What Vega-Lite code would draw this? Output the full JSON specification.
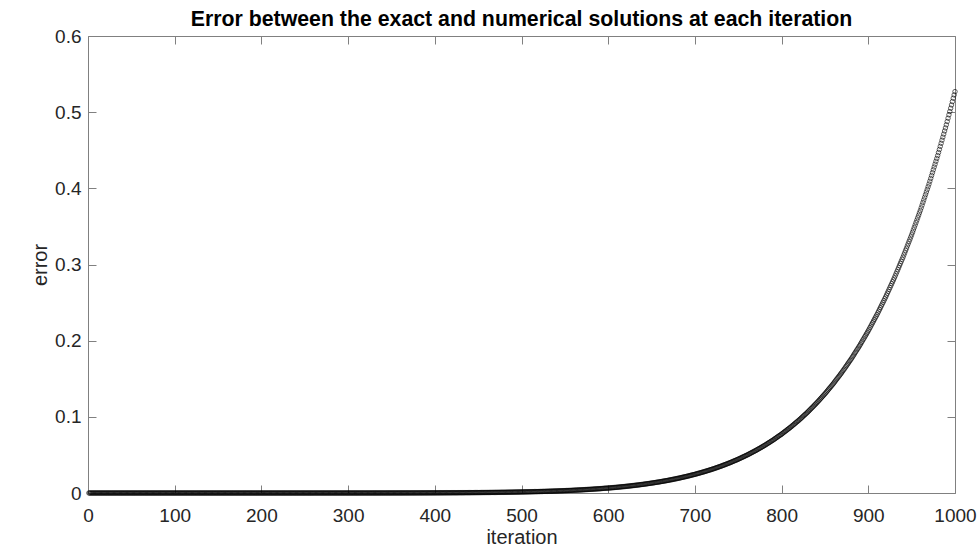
{
"$schema": "https://vega.github.io/schema/vega-lite/v6.json",
"width": 867, "height": 457,
"autosize": {"type": "none"},
"padding": {"left": 88, "top": 36, "right": 25, "bottom": 59},
"background": "white",
"title": {"text": "Error between the exact and numerical solutions at each iteration", "font": "Liberation Sans", "fontSize": 21.3, "fontWeight": "bold", "color": "#000000", "anchor": "middle", "offset": -3},
"config": {
  "view": {"stroke": null},
  "axis": {"grid": false, "labelFlush": false, "labelOverlap": false, "domainColor": "#808080", "tickColor": "#808080", "tickSize": -8, "labelFont": "Liberation Sans", "labelFontSize": 19, "labelColor": "#262626", "titleFont": "Liberation Sans", "titleFontSize": 20, "titleFontWeight": "normal", "titleColor": "#262626"}
},
"resolve": {"axis": {"x": "independent", "y": "independent"}},
"layer": [
{
"data": {"values": [
{"n":1,"e":0},{"n":2,"e":0},{"n":3,"e":0},{"n":4,"e":0},{"n":5,"e":0},{"n":6,"e":0},{"n":7,"e":0},{"n":8,"e":0},{"n":9,"e":0},{"n":10,"e":0},
{"n":11,"e":0},{"n":12,"e":0},{"n":13,"e":0},{"n":14,"e":0},{"n":15,"e":0},{"n":16,"e":0},{"n":17,"e":0},{"n":18,"e":0},{"n":19,"e":0},{"n":20,"e":0},
{"n":21,"e":0},{"n":22,"e":0},{"n":23,"e":0},{"n":24,"e":0},{"n":25,"e":0},{"n":26,"e":0},{"n":27,"e":0},{"n":28,"e":0},{"n":29,"e":0},{"n":30,"e":0},
{"n":31,"e":0},{"n":32,"e":0},{"n":33,"e":0},{"n":34,"e":0},{"n":35,"e":0},{"n":36,"e":0},{"n":37,"e":0},{"n":38,"e":0},{"n":39,"e":0},{"n":40,"e":0},
{"n":41,"e":0},{"n":42,"e":0},{"n":43,"e":0},{"n":44,"e":0},{"n":45,"e":0},{"n":46,"e":0},{"n":47,"e":0},{"n":48,"e":0},{"n":49,"e":0},{"n":50,"e":0},
{"n":51,"e":0},{"n":52,"e":0},{"n":53,"e":0},{"n":54,"e":0},{"n":55,"e":0},{"n":56,"e":0},{"n":57,"e":0},{"n":58,"e":0},{"n":59,"e":0},{"n":60,"e":0},
{"n":61,"e":0},{"n":62,"e":0},{"n":63,"e":0},{"n":64,"e":0},{"n":65,"e":0},{"n":66,"e":0},{"n":67,"e":0},{"n":68,"e":0},{"n":69,"e":0},{"n":70,"e":0},
{"n":71,"e":0},{"n":72,"e":0},{"n":73,"e":0},{"n":74,"e":0},{"n":75,"e":0},{"n":76,"e":0},{"n":77,"e":0},{"n":78,"e":0},{"n":79,"e":0},{"n":80,"e":0},
{"n":81,"e":0},{"n":82,"e":0},{"n":83,"e":0},{"n":84,"e":0},{"n":85,"e":0},{"n":86,"e":0},{"n":87,"e":0},{"n":88,"e":0},{"n":89,"e":0},{"n":90,"e":0},
{"n":91,"e":0},{"n":92,"e":0},{"n":93,"e":0},{"n":94,"e":0},{"n":95,"e":0},{"n":96,"e":0},{"n":97,"e":0},{"n":98,"e":0},{"n":99,"e":0},{"n":100,"e":0},
{"n":101,"e":0},{"n":102,"e":0},{"n":103,"e":0},{"n":104,"e":0},{"n":105,"e":0},{"n":106,"e":0},{"n":107,"e":0},{"n":108,"e":0},{"n":109,"e":0},{"n":110,"e":0},
{"n":111,"e":0},{"n":112,"e":0},{"n":113,"e":0},{"n":114,"e":0},{"n":115,"e":0},{"n":116,"e":0},{"n":117,"e":0},{"n":118,"e":0},{"n":119,"e":0},{"n":120,"e":0},
{"n":121,"e":0},{"n":122,"e":0},{"n":123,"e":0},{"n":124,"e":0},{"n":125,"e":0},{"n":126,"e":0},{"n":127,"e":0},{"n":128,"e":0},{"n":129,"e":0},{"n":130,"e":0},
{"n":131,"e":0},{"n":132,"e":0},{"n":133,"e":0},{"n":134,"e":0},{"n":135,"e":0},{"n":136,"e":0},{"n":137,"e":0},{"n":138,"e":0},{"n":139,"e":0},{"n":140,"e":0},
{"n":141,"e":0},{"n":142,"e":0},{"n":143,"e":0},{"n":144,"e":0},{"n":145,"e":0},{"n":146,"e":0},{"n":147,"e":0},{"n":148,"e":0},{"n":149,"e":0},{"n":150,"e":0},
{"n":151,"e":0},{"n":152,"e":0},{"n":153,"e":0},{"n":154,"e":0},{"n":155,"e":0},{"n":156,"e":0},{"n":157,"e":0},{"n":158,"e":0},{"n":159,"e":0},{"n":160,"e":0},
{"n":161,"e":0},{"n":162,"e":0},{"n":163,"e":0},{"n":164,"e":0},{"n":165,"e":0},{"n":166,"e":0},{"n":167,"e":0},{"n":168,"e":0},{"n":169,"e":0},{"n":170,"e":0},
{"n":171,"e":0},{"n":172,"e":0},{"n":173,"e":0},{"n":174,"e":0},{"n":175,"e":0},{"n":176,"e":0},{"n":177,"e":0},{"n":178,"e":0},{"n":179,"e":0},{"n":180,"e":0},
{"n":181,"e":0},{"n":182,"e":0},{"n":183,"e":0},{"n":184,"e":0},{"n":185,"e":0},{"n":186,"e":0},{"n":187,"e":0},{"n":188,"e":0},{"n":189,"e":0},{"n":190,"e":0},
{"n":191,"e":0},{"n":192,"e":0},{"n":193,"e":0},{"n":194,"e":0},{"n":195,"e":0},{"n":196,"e":0},{"n":197,"e":0},{"n":198,"e":0},{"n":199,"e":0},{"n":200,"e":0},
{"n":201,"e":0},{"n":202,"e":0},{"n":203,"e":0},{"n":204,"e":0},{"n":205,"e":0},{"n":206,"e":0},{"n":207,"e":0},{"n":208,"e":0},{"n":209,"e":0},{"n":210,"e":0},
{"n":211,"e":0},{"n":212,"e":0},{"n":213,"e":0},{"n":214,"e":0},{"n":215,"e":0},{"n":216,"e":0},{"n":217,"e":0},{"n":218,"e":0},{"n":219,"e":0},{"n":220,"e":0},
{"n":221,"e":0},{"n":222,"e":0},{"n":223,"e":0},{"n":224,"e":0},{"n":225,"e":0},{"n":226,"e":0},{"n":227,"e":0},{"n":228,"e":0},{"n":229,"e":0},{"n":230,"e":0},
{"n":231,"e":0},{"n":232,"e":0},{"n":233,"e":0},{"n":234,"e":0},{"n":235,"e":0},{"n":236,"e":0},{"n":237,"e":0},{"n":238,"e":0},{"n":239,"e":0},{"n":240,"e":0},
{"n":241,"e":0},{"n":242,"e":0},{"n":243,"e":0},{"n":244,"e":0},{"n":245,"e":0},{"n":246,"e":0},{"n":247,"e":0},{"n":248,"e":0},{"n":249,"e":0},{"n":250,"e":0},
{"n":251,"e":0},{"n":252,"e":0},{"n":253,"e":0},{"n":254,"e":0},{"n":255,"e":0},{"n":256,"e":0},{"n":257,"e":0},{"n":258,"e":0},{"n":259,"e":0},{"n":260,"e":0},
{"n":261,"e":0.00001},{"n":262,"e":0.00001},{"n":263,"e":0.00001},{"n":264,"e":0.00001},{"n":265,"e":0.00001},{"n":266,"e":0.00001},{"n":267,"e":0.00001},{"n":268,"e":0.00001},{"n":269,"e":0.00001},{"n":270,"e":0.00001},
{"n":271,"e":0.00001},{"n":272,"e":0.00001},{"n":273,"e":0.00001},{"n":274,"e":0.00001},{"n":275,"e":0.00001},{"n":276,"e":0.00001},{"n":277,"e":0.00001},{"n":278,"e":0.00001},{"n":279,"e":0.00001},{"n":280,"e":0.00001},
{"n":281,"e":0.00001},{"n":282,"e":0.00001},{"n":283,"e":0.00001},{"n":284,"e":0.00001},{"n":285,"e":0.00001},{"n":286,"e":0.00001},{"n":287,"e":0.00001},{"n":288,"e":0.00001},{"n":289,"e":0.00001},{"n":290,"e":0.00001},
{"n":291,"e":0.00001},{"n":292,"e":0.00001},{"n":293,"e":0.00001},{"n":294,"e":0.00001},{"n":295,"e":0.00001},{"n":296,"e":0.00002},{"n":297,"e":0.00002},{"n":298,"e":0.00002},{"n":299,"e":0.00002},{"n":300,"e":0.00002},
{"n":301,"e":0.00002},{"n":302,"e":0.00002},{"n":303,"e":0.00002},{"n":304,"e":0.00002},{"n":305,"e":0.00002},{"n":306,"e":0.00002},{"n":307,"e":0.00002},{"n":308,"e":0.00002},{"n":309,"e":0.00002},{"n":310,"e":0.00002},
{"n":311,"e":0.00002},{"n":312,"e":0.00002},{"n":313,"e":0.00002},{"n":314,"e":0.00003},{"n":315,"e":0.00003},{"n":316,"e":0.00003},{"n":317,"e":0.00003},{"n":318,"e":0.00003},{"n":319,"e":0.00003},{"n":320,"e":0.00003},
{"n":321,"e":0.00003},{"n":322,"e":0.00003},{"n":323,"e":0.00003},{"n":324,"e":0.00003},{"n":325,"e":0.00003},{"n":326,"e":0.00003},{"n":327,"e":0.00004},{"n":328,"e":0.00004},{"n":329,"e":0.00004},{"n":330,"e":0.00004},
{"n":331,"e":0.00004},{"n":332,"e":0.00004},{"n":333,"e":0.00004},{"n":334,"e":0.00004},{"n":335,"e":0.00004},{"n":336,"e":0.00004},{"n":337,"e":0.00005},{"n":338,"e":0.00005},{"n":339,"e":0.00005},{"n":340,"e":0.00005},
{"n":341,"e":0.00005},{"n":342,"e":0.00005},{"n":343,"e":0.00005},{"n":344,"e":0.00005},{"n":345,"e":0.00006},{"n":346,"e":0.00006},{"n":347,"e":0.00006},{"n":348,"e":0.00006},{"n":349,"e":0.00006},{"n":350,"e":0.00006},
{"n":351,"e":0.00007},{"n":352,"e":0.00007},{"n":353,"e":0.00007},{"n":354,"e":0.00007},{"n":355,"e":0.00007},{"n":356,"e":0.00007},{"n":357,"e":0.00008},{"n":358,"e":0.00008},{"n":359,"e":0.00008},{"n":360,"e":0.00008},
{"n":361,"e":0.00008},{"n":362,"e":0.00008},{"n":363,"e":0.00009},{"n":364,"e":0.00009},{"n":365,"e":0.00009},{"n":366,"e":0.00009},{"n":367,"e":0.0001},{"n":368,"e":0.0001},{"n":369,"e":0.0001},{"n":370,"e":0.0001},
{"n":371,"e":0.0001},{"n":372,"e":0.00011},{"n":373,"e":0.00011},{"n":374,"e":0.00011},{"n":375,"e":0.00012},{"n":376,"e":0.00012},{"n":377,"e":0.00012},{"n":378,"e":0.00012},{"n":379,"e":0.00013},{"n":380,"e":0.00013},
{"n":381,"e":0.00013},{"n":382,"e":0.00013},{"n":383,"e":0.00014},{"n":384,"e":0.00014},{"n":385,"e":0.00014},{"n":386,"e":0.00015},{"n":387,"e":0.00015},{"n":388,"e":0.00015},{"n":389,"e":0.00016},{"n":390,"e":0.00016},
{"n":391,"e":0.00016},{"n":392,"e":0.00017},{"n":393,"e":0.00017},{"n":394,"e":0.00018},{"n":395,"e":0.00018},{"n":396,"e":0.00018},{"n":397,"e":0.00019},{"n":398,"e":0.00019},{"n":399,"e":0.0002},{"n":400,"e":0.0002},
{"n":401,"e":0.0002},{"n":402,"e":0.00021},{"n":403,"e":0.00021},{"n":404,"e":0.00022},{"n":405,"e":0.00022},{"n":406,"e":0.00023},{"n":407,"e":0.00023},{"n":408,"e":0.00024},{"n":409,"e":0.00024},{"n":410,"e":0.00025},
{"n":411,"e":0.00025},{"n":412,"e":0.00026},{"n":413,"e":0.00026},{"n":414,"e":0.00027},{"n":415,"e":0.00028},{"n":416,"e":0.00028},{"n":417,"e":0.00029},{"n":418,"e":0.00029},{"n":419,"e":0.0003},{"n":420,"e":0.0003},
{"n":421,"e":0.00031},{"n":422,"e":0.00032},{"n":423,"e":0.00032},{"n":424,"e":0.00033},{"n":425,"e":0.00034},{"n":426,"e":0.00034},{"n":427,"e":0.00035},{"n":428,"e":0.00036},{"n":429,"e":0.00036},{"n":430,"e":0.00037},
{"n":431,"e":0.00038},{"n":432,"e":0.00039},{"n":433,"e":0.0004},{"n":434,"e":0.0004},{"n":435,"e":0.00041},{"n":436,"e":0.00042},{"n":437,"e":0.00043},{"n":438,"e":0.00044},{"n":439,"e":0.00044},{"n":440,"e":0.00045},
{"n":441,"e":0.00046},{"n":442,"e":0.00047},{"n":443,"e":0.00048},{"n":444,"e":0.00049},{"n":445,"e":0.0005},{"n":446,"e":0.00051},{"n":447,"e":0.00052},{"n":448,"e":0.00053},{"n":449,"e":0.00054},{"n":450,"e":0.00055},
{"n":451,"e":0.00056},{"n":452,"e":0.00057},{"n":453,"e":0.00058},{"n":454,"e":0.0006},{"n":455,"e":0.00061},{"n":456,"e":0.00062},{"n":457,"e":0.00063},{"n":458,"e":0.00064},{"n":459,"e":0.00065},{"n":460,"e":0.00066},
{"n":461,"e":0.00068},{"n":462,"e":0.00069},{"n":463,"e":0.0007},{"n":464,"e":0.00072},{"n":465,"e":0.00073},{"n":466,"e":0.00074},{"n":467,"e":0.00076},{"n":468,"e":0.00077},{"n":469,"e":0.00078},{"n":470,"e":0.0008},
{"n":471,"e":0.00081},{"n":472,"e":0.00083},{"n":473,"e":0.00085},{"n":474,"e":0.00086},{"n":475,"e":0.00088},{"n":476,"e":0.00089},{"n":477,"e":0.00091},{"n":478,"e":0.00092},{"n":479,"e":0.00094},{"n":480,"e":0.00096},
{"n":481,"e":0.00097},{"n":482,"e":0.00099},{"n":483,"e":0.00101},{"n":484,"e":0.00103},{"n":485,"e":0.00105},{"n":486,"e":0.00107},{"n":487,"e":0.00109},{"n":488,"e":0.0011},{"n":489,"e":0.00112},{"n":490,"e":0.00114},
{"n":491,"e":0.00116},{"n":492,"e":0.00119},{"n":493,"e":0.00121},{"n":494,"e":0.00123},{"n":495,"e":0.00125},{"n":496,"e":0.00127},{"n":497,"e":0.00129},{"n":498,"e":0.00131},{"n":499,"e":0.00134},{"n":500,"e":0.0014},
{"n":501,"e":0.0014},{"n":502,"e":0.0014},{"n":503,"e":0.0014},{"n":504,"e":0.0015},{"n":505,"e":0.0015},{"n":506,"e":0.0015},{"n":507,"e":0.0015},{"n":508,"e":0.0016},{"n":509,"e":0.0016},{"n":510,"e":0.0016},
{"n":511,"e":0.0016},{"n":512,"e":0.0017},{"n":513,"e":0.0017},{"n":514,"e":0.0017},{"n":515,"e":0.0018},{"n":516,"e":0.0018},{"n":517,"e":0.0018},{"n":518,"e":0.0018},{"n":519,"e":0.0019},{"n":520,"e":0.0019},
{"n":521,"e":0.0019},{"n":522,"e":0.002},{"n":523,"e":0.002},{"n":524,"e":0.002},{"n":525,"e":0.0021},{"n":526,"e":0.0021},{"n":527,"e":0.0021},{"n":528,"e":0.0022},{"n":529,"e":0.0022},{"n":530,"e":0.0022},
{"n":531,"e":0.0023},{"n":532,"e":0.0023},{"n":533,"e":0.0024},{"n":534,"e":0.0024},{"n":535,"e":0.0024},{"n":536,"e":0.0025},{"n":537,"e":0.0025},{"n":538,"e":0.0026},{"n":539,"e":0.0026},{"n":540,"e":0.0026},
{"n":541,"e":0.0027},{"n":542,"e":0.0027},{"n":543,"e":0.0028},{"n":544,"e":0.0028},{"n":545,"e":0.0029},{"n":546,"e":0.0029},{"n":547,"e":0.0029},{"n":548,"e":0.003},{"n":549,"e":0.003},{"n":550,"e":0.0031},
{"n":551,"e":0.0031},{"n":552,"e":0.0032},{"n":553,"e":0.0032},{"n":554,"e":0.0033},{"n":555,"e":0.0033},{"n":556,"e":0.0034},{"n":557,"e":0.0034},{"n":558,"e":0.0035},{"n":559,"e":0.0035},{"n":560,"e":0.0036},
{"n":561,"e":0.0037},{"n":562,"e":0.0037},{"n":563,"e":0.0038},{"n":564,"e":0.0038},{"n":565,"e":0.0039},{"n":566,"e":0.004},{"n":567,"e":0.004},{"n":568,"e":0.0041},{"n":569,"e":0.0041},{"n":570,"e":0.0042},
{"n":571,"e":0.0043},{"n":572,"e":0.0043},{"n":573,"e":0.0044},{"n":574,"e":0.0045},{"n":575,"e":0.0045},{"n":576,"e":0.0046},{"n":577,"e":0.0047},{"n":578,"e":0.0047},{"n":579,"e":0.0048},{"n":580,"e":0.0049},
{"n":581,"e":0.0049},{"n":582,"e":0.005},{"n":583,"e":0.0051},{"n":584,"e":0.0052},{"n":585,"e":0.0053},{"n":586,"e":0.0053},{"n":587,"e":0.0054},{"n":588,"e":0.0055},{"n":589,"e":0.0056},{"n":590,"e":0.0056},
{"n":591,"e":0.0057},{"n":592,"e":0.0058},{"n":593,"e":0.0059},{"n":594,"e":0.006},{"n":595,"e":0.0061},{"n":596,"e":0.0062},{"n":597,"e":0.0063},{"n":598,"e":0.0063},{"n":599,"e":0.0064},{"n":600,"e":0.0065},
{"n":601,"e":0.0066},{"n":602,"e":0.0067},{"n":603,"e":0.0068},{"n":604,"e":0.0069},{"n":605,"e":0.007},{"n":606,"e":0.0071},{"n":607,"e":0.0072},{"n":608,"e":0.0073},{"n":609,"e":0.0074},{"n":610,"e":0.0075},
{"n":611,"e":0.0076},{"n":612,"e":0.0077},{"n":613,"e":0.0078},{"n":614,"e":0.008},{"n":615,"e":0.0081},{"n":616,"e":0.0082},{"n":617,"e":0.0083},{"n":618,"e":0.0084},{"n":619,"e":0.0085},{"n":620,"e":0.0086},
{"n":621,"e":0.0088},{"n":622,"e":0.0089},{"n":623,"e":0.009},{"n":624,"e":0.0091},{"n":625,"e":0.0093},{"n":626,"e":0.0094},{"n":627,"e":0.0095},{"n":628,"e":0.0097},{"n":629,"e":0.0098},{"n":630,"e":0.0099},
{"n":631,"e":0.0101},{"n":632,"e":0.0102},{"n":633,"e":0.0103},{"n":634,"e":0.0105},{"n":635,"e":0.0106},{"n":636,"e":0.0108},{"n":637,"e":0.0109},{"n":638,"e":0.0111},{"n":639,"e":0.0112},{"n":640,"e":0.0113},
{"n":641,"e":0.0115},{"n":642,"e":0.0117},{"n":643,"e":0.0118},{"n":644,"e":0.012},{"n":645,"e":0.0122},{"n":646,"e":0.0123},{"n":647,"e":0.0125},{"n":648,"e":0.0126},{"n":649,"e":0.0128},{"n":650,"e":0.013},
{"n":651,"e":0.0132},{"n":652,"e":0.0133},{"n":653,"e":0.0135},{"n":654,"e":0.0137},{"n":655,"e":0.0139},{"n":656,"e":0.0141},{"n":657,"e":0.0142},{"n":658,"e":0.0144},{"n":659,"e":0.0146},{"n":660,"e":0.0148},
{"n":661,"e":0.015},{"n":662,"e":0.0152},{"n":663,"e":0.0154},{"n":664,"e":0.0156},{"n":665,"e":0.0158},{"n":666,"e":0.016},{"n":667,"e":0.0162},{"n":668,"e":0.0164},{"n":669,"e":0.0166},{"n":670,"e":0.0168},
{"n":671,"e":0.0171},{"n":672,"e":0.0173},{"n":673,"e":0.0175},{"n":674,"e":0.0177},{"n":675,"e":0.018},{"n":676,"e":0.0182},{"n":677,"e":0.0184},{"n":678,"e":0.0187},{"n":679,"e":0.0189},{"n":680,"e":0.0191},
{"n":681,"e":0.0194},{"n":682,"e":0.0196},{"n":683,"e":0.0199},{"n":684,"e":0.0201},{"n":685,"e":0.0204},{"n":686,"e":0.0207},{"n":687,"e":0.0209},{"n":688,"e":0.0212},{"n":689,"e":0.0214},{"n":690,"e":0.0217},
{"n":691,"e":0.022},{"n":692,"e":0.0222},{"n":693,"e":0.0225},{"n":694,"e":0.0228},{"n":695,"e":0.0231},{"n":696,"e":0.0234},{"n":697,"e":0.0237},{"n":698,"e":0.024},{"n":699,"e":0.0242},{"n":700,"e":0.0245},
{"n":701,"e":0.0248},{"n":702,"e":0.0252},{"n":703,"e":0.0255},{"n":704,"e":0.0258},{"n":705,"e":0.0261},{"n":706,"e":0.0264},{"n":707,"e":0.0268},{"n":708,"e":0.0271},{"n":709,"e":0.0274},{"n":710,"e":0.0277},
{"n":711,"e":0.0281},{"n":712,"e":0.0284},{"n":713,"e":0.0288},{"n":714,"e":0.0291},{"n":715,"e":0.0295},{"n":716,"e":0.0298},{"n":717,"e":0.0302},{"n":718,"e":0.0305},{"n":719,"e":0.0309},{"n":720,"e":0.0313},
{"n":721,"e":0.0316},{"n":722,"e":0.032},{"n":723,"e":0.0324},{"n":724,"e":0.0328},{"n":725,"e":0.0332},{"n":726,"e":0.0336},{"n":727,"e":0.034},{"n":728,"e":0.0344},{"n":729,"e":0.0348},{"n":730,"e":0.0352},
{"n":731,"e":0.0356},{"n":732,"e":0.0361},{"n":733,"e":0.0365},{"n":734,"e":0.0369},{"n":735,"e":0.0374},{"n":736,"e":0.0378},{"n":737,"e":0.0382},{"n":738,"e":0.0387},{"n":739,"e":0.0391},{"n":740,"e":0.0396},
{"n":741,"e":0.04},{"n":742,"e":0.0405},{"n":743,"e":0.041},{"n":744,"e":0.0415},{"n":745,"e":0.042},{"n":746,"e":0.0425},{"n":747,"e":0.0429},{"n":748,"e":0.0434},{"n":749,"e":0.0439},{"n":750,"e":0.0444},
{"n":751,"e":0.0449},{"n":752,"e":0.0455},{"n":753,"e":0.046},{"n":754,"e":0.0465},{"n":755,"e":0.0471},{"n":756,"e":0.0476},{"n":757,"e":0.0481},{"n":758,"e":0.0487},{"n":759,"e":0.0492},{"n":760,"e":0.0498},
{"n":761,"e":0.0503},{"n":762,"e":0.0509},{"n":763,"e":0.0515},{"n":764,"e":0.0521},{"n":765,"e":0.0527},{"n":766,"e":0.0533},{"n":767,"e":0.0539},{"n":768,"e":0.0545},{"n":769,"e":0.0551},{"n":770,"e":0.0557},
{"n":771,"e":0.0563},{"n":772,"e":0.057},{"n":773,"e":0.0576},{"n":774,"e":0.0583},{"n":775,"e":0.0589},{"n":776,"e":0.0596},{"n":777,"e":0.0602},{"n":778,"e":0.0609},{"n":779,"e":0.0616},{"n":780,"e":0.0622},
{"n":781,"e":0.0629},{"n":782,"e":0.0636},{"n":783,"e":0.0644},{"n":784,"e":0.0651},{"n":785,"e":0.0658},{"n":786,"e":0.0665},{"n":787,"e":0.0672},{"n":788,"e":0.068},{"n":789,"e":0.0687},{"n":790,"e":0.0694},
{"n":791,"e":0.0702},{"n":792,"e":0.071},{"n":793,"e":0.0718},{"n":794,"e":0.0726},{"n":795,"e":0.0734},{"n":796,"e":0.0742},{"n":797,"e":0.075},{"n":798,"e":0.0758},{"n":799,"e":0.0765},{"n":800,"e":0.0773},
{"n":801,"e":0.0782},{"n":802,"e":0.0791},{"n":803,"e":0.08},{"n":804,"e":0.0808},{"n":805,"e":0.0817},{"n":806,"e":0.0826},{"n":807,"e":0.0835},{"n":808,"e":0.0843},{"n":809,"e":0.0852},{"n":810,"e":0.0861},
{"n":811,"e":0.087},{"n":812,"e":0.088},{"n":813,"e":0.0889},{"n":814,"e":0.0899},{"n":815,"e":0.0909},{"n":816,"e":0.0918},{"n":817,"e":0.0928},{"n":818,"e":0.0937},{"n":819,"e":0.0947},{"n":820,"e":0.0956},
{"n":821,"e":0.0967},{"n":822,"e":0.0977},{"n":823,"e":0.0988},{"n":824,"e":0.0998},{"n":825,"e":0.1009},{"n":826,"e":0.1019},{"n":827,"e":0.103},{"n":828,"e":0.104},{"n":829,"e":0.1051},{"n":830,"e":0.1061},
{"n":831,"e":0.1073},{"n":832,"e":0.1084},{"n":833,"e":0.1096},{"n":834,"e":0.1108},{"n":835,"e":0.1119},{"n":836,"e":0.1131},{"n":837,"e":0.1142},{"n":838,"e":0.1154},{"n":839,"e":0.1165},{"n":840,"e":0.1177},
{"n":841,"e":0.1189},{"n":842,"e":0.1202},{"n":843,"e":0.1214},{"n":844,"e":0.1227},{"n":845,"e":0.124},{"n":846,"e":0.1252},{"n":847,"e":0.1265},{"n":848,"e":0.1277},{"n":849,"e":0.129},{"n":850,"e":0.1303},
{"n":851,"e":0.1316},{"n":852,"e":0.133},{"n":853,"e":0.1344},{"n":854,"e":0.1358},{"n":855,"e":0.1372},{"n":856,"e":0.1385},{"n":857,"e":0.1399},{"n":858,"e":0.1413},{"n":859,"e":0.1427},{"n":860,"e":0.1441},
{"n":861,"e":0.1456},{"n":862,"e":0.1471},{"n":863,"e":0.1486},{"n":864,"e":0.1501},{"n":865,"e":0.1516},{"n":866,"e":0.1531},{"n":867,"e":0.1546},{"n":868,"e":0.1561},{"n":869,"e":0.1576},{"n":870,"e":0.1591},
{"n":871,"e":0.1608},{"n":872,"e":0.1624},{"n":873,"e":0.164},{"n":874,"e":0.1657},{"n":875,"e":0.1673},{"n":876,"e":0.169},{"n":877,"e":0.1706},{"n":878,"e":0.1723},{"n":879,"e":0.1739},{"n":880,"e":0.1756},
{"n":881,"e":0.1773},{"n":882,"e":0.1791},{"n":883,"e":0.1809},{"n":884,"e":0.1827},{"n":885,"e":0.1845},{"n":886,"e":0.1863},{"n":887,"e":0.1881},{"n":888,"e":0.1899},{"n":889,"e":0.1917},{"n":890,"e":0.1935},
{"n":891,"e":0.1954},{"n":892,"e":0.1974},{"n":893,"e":0.1993},{"n":894,"e":0.2013},{"n":895,"e":0.2032},{"n":896,"e":0.2052},{"n":897,"e":0.2071},{"n":898,"e":0.2091},{"n":899,"e":0.211},{"n":900,"e":0.213},
{"n":901,"e":0.2151},{"n":902,"e":0.2172},{"n":903,"e":0.2193},{"n":904,"e":0.2215},{"n":905,"e":0.2236},{"n":906,"e":0.2257},{"n":907,"e":0.2278},{"n":908,"e":0.23},{"n":909,"e":0.2321},{"n":910,"e":0.2342},
{"n":911,"e":0.2365},{"n":912,"e":0.2388},{"n":913,"e":0.2411},{"n":914,"e":0.2434},{"n":915,"e":0.2457},{"n":916,"e":0.248},{"n":917,"e":0.2503},{"n":918,"e":0.2526},{"n":919,"e":0.255},{"n":920,"e":0.2573},
{"n":921,"e":0.2598},{"n":922,"e":0.2623},{"n":923,"e":0.2648},{"n":924,"e":0.2673},{"n":925,"e":0.2698},{"n":926,"e":0.2723},{"n":927,"e":0.2748},{"n":928,"e":0.2773},{"n":929,"e":0.2798},{"n":930,"e":0.2823},
{"n":931,"e":0.285},{"n":932,"e":0.2878},{"n":933,"e":0.2905},{"n":934,"e":0.2932},{"n":935,"e":0.2959},{"n":936,"e":0.2987},{"n":937,"e":0.3014},{"n":938,"e":0.3041},{"n":939,"e":0.3068},{"n":940,"e":0.3095},
{"n":941,"e":0.3125},{"n":942,"e":0.3154},{"n":943,"e":0.3184},{"n":944,"e":0.3213},{"n":945,"e":0.3243},{"n":946,"e":0.3272},{"n":947,"e":0.3302},{"n":948,"e":0.3331},{"n":949,"e":0.3361},{"n":950,"e":0.339},
{"n":951,"e":0.3422},{"n":952,"e":0.3454},{"n":953,"e":0.3486},{"n":954,"e":0.3518},{"n":955,"e":0.355},{"n":956,"e":0.3582},{"n":957,"e":0.3614},{"n":958,"e":0.3646},{"n":959,"e":0.3678},{"n":960,"e":0.371},
{"n":961,"e":0.3744},{"n":962,"e":0.3779},{"n":963,"e":0.3814},{"n":964,"e":0.3848},{"n":965,"e":0.3883},{"n":966,"e":0.3917},{"n":967,"e":0.3952},{"n":968,"e":0.3986},{"n":969,"e":0.4021},{"n":970,"e":0.4056},
{"n":971,"e":0.4093},{"n":972,"e":0.413},{"n":973,"e":0.4168},{"n":974,"e":0.4205},{"n":975,"e":0.4243},{"n":976,"e":0.428},{"n":977,"e":0.4317},{"n":978,"e":0.4355},{"n":979,"e":0.4392},{"n":980,"e":0.443},
{"n":981,"e":0.447},{"n":982,"e":0.451},{"n":983,"e":0.4551},{"n":984,"e":0.4591},{"n":985,"e":0.4632},{"n":986,"e":0.4672},{"n":987,"e":0.4712},{"n":988,"e":0.4753},{"n":989,"e":0.4793},{"n":990,"e":0.4834},
{"n":991,"e":0.4877},{"n":992,"e":0.4921},{"n":993,"e":0.4965},{"n":994,"e":0.5008},{"n":995,"e":0.5052},{"n":996,"e":0.5095},{"n":997,"e":0.5139},{"n":998,"e":0.5183},{"n":999,"e":0.5226},{"n":1000,"e":0.527}
]},
"mark": {"type": "point", "shape": "circle", "filled": false, "size": 20, "stroke": "#000000", "strokeWidth": 0.6, "opacity": 1},
"encoding": {
  "x": {"field": "n", "type": "quantitative", "scale": {"domain": [0, 1000], "nice": false, "zero": false}, "axis": {"orient": "bottom", "values": [0,100,200,300,400,500,600,700,800,900,1000], "format": "d", "title": "iteration", "labelPadding": 21, "titlePadding": 2}},
  "y": {"field": "e", "type": "quantitative", "scale": {"domain": [0, 0.6], "nice": false, "zero": false}, "axis": {"orient": "left", "values": [0,0.1,0.2,0.3,0.4,0.5,0.6], "format": "~g", "title": "error", "labelPadding": 15, "titlePadding": 4}}
}
},
{
"data": {"values": [{"n": 0, "e": 0}]},
"mark": {"type": "point", "opacity": 0},
"encoding": {
  "x": {"field": "n", "type": "quantitative", "axis": {"orient": "top", "values": [0,100,200,300,400,500,600,700,800,900,1000], "labels": false, "title": null}},
  "y": {"field": "e", "type": "quantitative", "axis": {"orient": "right", "values": [0,0.1,0.2,0.3,0.4,0.5,0.6], "labels": false, "title": null}}
}
}
]
}
